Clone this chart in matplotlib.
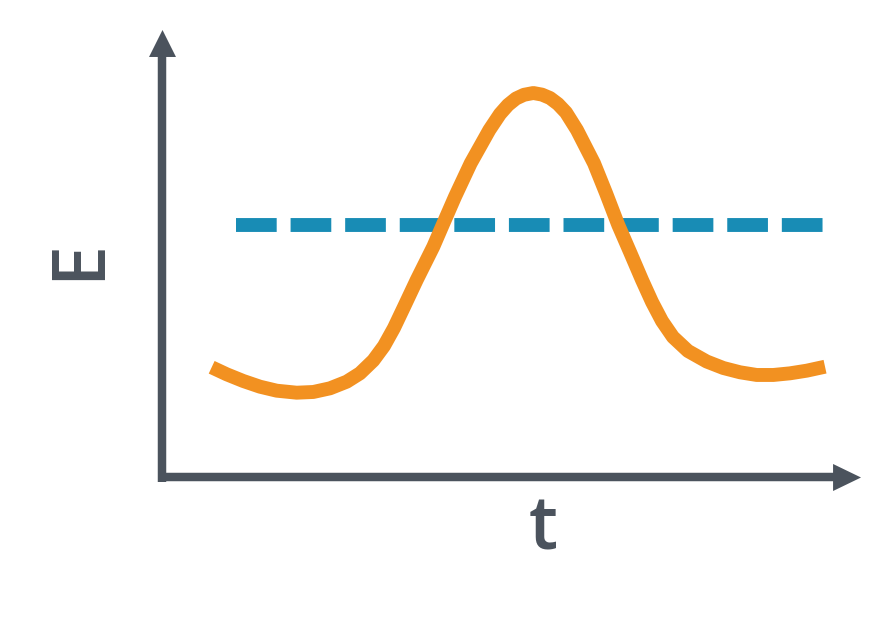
import matplotlib
matplotlib.use('Agg')
import matplotlib.pyplot as plt
from matplotlib.patches import Polygon

# Values (t and E in arbitrary units, axis range 0..10)
t_curve = [0.704, 0.919, 1.157, 1.396, 1.635, 1.921, 2.159, 2.398, 2.637, 2.827,
           3.018, 3.171, 3.314, 3.457, 3.639, 3.877, 4.011, 4.188, 4.412, 4.679,
           4.832, 4.946, 5.061, 5.175, 5.309, 5.433, 5.548, 5.662, 5.777, 5.934,
           6.178, 6.349, 6.525, 6.693, 6.865, 7.008, 7.151, 7.308, 7.523, 7.791,
           8.029, 8.268, 8.507, 8.745, 8.984, 9.223, 9.485]
E_curve = [2.463, 2.306, 2.156, 2.029, 1.940, 1.895, 1.911, 1.993, 2.141, 2.328,
           2.615, 2.939, 3.341, 3.810, 4.413, 5.158, 5.642, 6.275, 7.021, 7.765,
           8.123, 8.324, 8.469, 8.552, 8.592, 8.556, 8.480, 8.346, 8.156, 7.765,
           7.021, 6.358, 5.642, 5.039, 4.413, 3.922, 3.497, 3.140, 2.827, 2.592,
           2.447, 2.351, 2.291, 2.291, 2.328, 2.387, 2.476]
t_level = [1.052, 9.513]
E_level = [5.642, 5.642]

axis_color = '#4B535D'
orange = '#F29121'
blue = '#188CB5'

fig = plt.figure(figsize=(8.93, 6.27), dpi=100)
ax = fig.add_axes([0.18197, 0.23844, 0.78220, 0.71372])
ax.set_xlim(0, 10)
ax.set_ylim(0, 10)
ax.axis('off')

# curve and dashed threshold
ax.plot(t_level, E_level, color=blue, lw=10, linestyle=(0, (2.93, 1.0)),
        dash_capstyle='butt', zorder=2)
ax.plot(t_curve, E_curve, color=orange, lw=10, solid_capstyle='butt',
        solid_joinstyle='round', zorder=3)

# axes drawn as arrows (axes fraction coords)
tr = ax.transAxes
ax.plot([0, 0], [-0.01, 0.945], transform=tr, color=axis_color, lw=6.1,
        solid_capstyle='butt', clip_on=False)
ax.plot([-0.006, 0.965], [0, 0], transform=tr, color=axis_color, lw=6.1,
        solid_capstyle='butt', clip_on=False)
ax.add_patch(Polygon([[0, 1.0], [-0.0193, 0.9397], [0.0193, 0.9397]],
                     closed=True, transform=tr, color=axis_color, lw=0, clip_on=False))
ax.add_patch(Polygon([[1.0, 0], [0.960, 0.0302], [0.960, -0.0302]],
                     closed=True, transform=tr, color=axis_color, lw=0, clip_on=False))

# axis labels
ax.text(-0.118, 0.488, 'E', transform=tr, rotation=90, ha='center', va='center',
        fontsize=53, color=axis_color, family='Open Sans', fontweight='semibold')
ax.text(0.5447, -0.119, 't', transform=tr, ha='center', va='center',
        fontsize=53, color=axis_color, family='Open Sans', fontweight='semibold')

plt.savefig('out.png', dpi=100)
